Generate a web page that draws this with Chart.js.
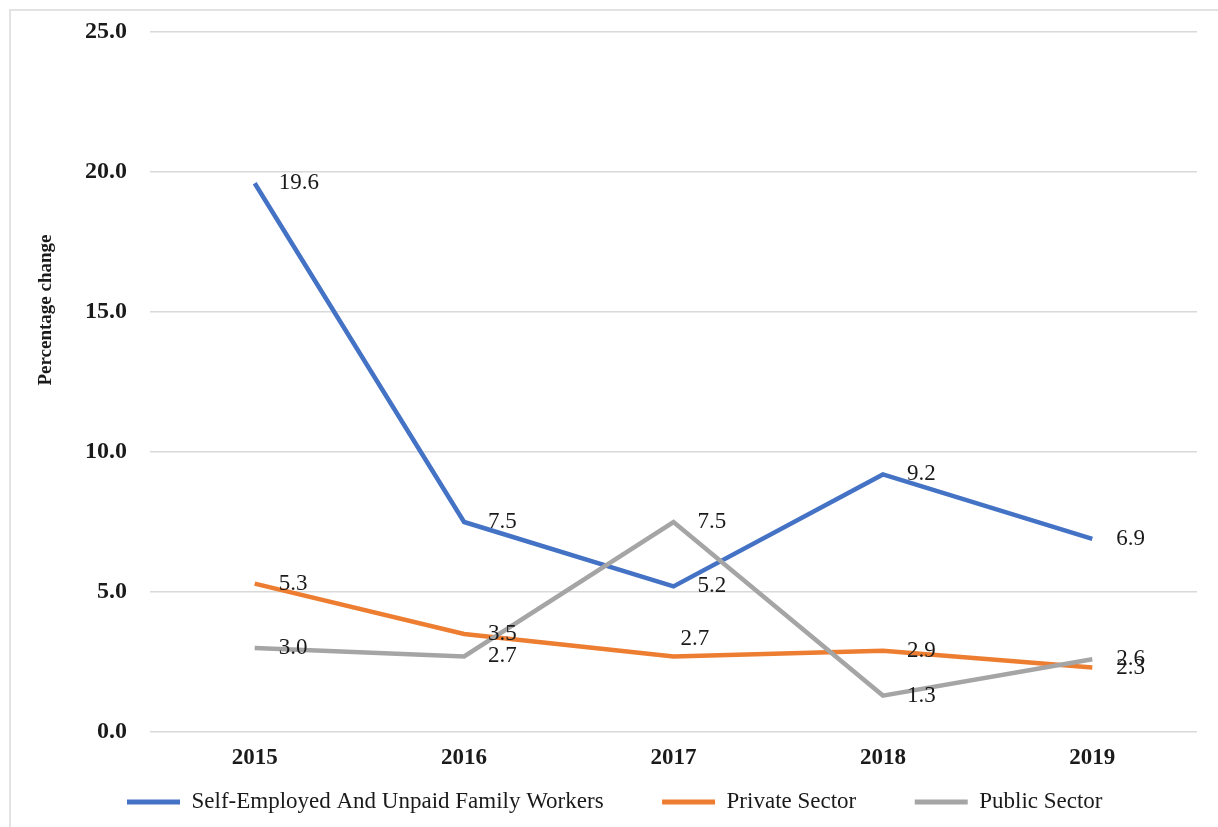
<!DOCTYPE html>
<html>
<head>
<meta charset="utf-8">
<script src="https://cdn.jsdelivr.net/npm/chart.js@4.4.0/dist/chart.umd.min.js"></script>
<style>
  html, body { margin: 0; padding: 0; background: #fff; overflow: hidden; }
  #wrap { position: relative; width: 1218px; height: 827px; overflow: hidden; }
  #frame { position: absolute; left: 9px; top: 9px; right: -20px; bottom: -20px; border: 2px solid #e2e2e2; }
  #c { position: absolute; left: 0; top: 0; }
</style>
</head>
<body>
<div id="wrap">
  <div id="frame"></div>
  <canvas id="c" width="1218" height="867"></canvas>
</div>
<script>
// ── Data ───────────────────────────────────────────────────────────────────
const YEARS = ['2015', '2016', '2017', '2018', '2019'];
const SELF_EMPLOYED = [19.6, 7.5, 5.2, 9.2, 6.9];
const PRIVATE_SECTOR = [5.3, 3.5, 2.7, 2.9, 2.3];
const PUBLIC_SECTOR = [3.0, 2.7, 7.5, 1.3, 2.6];
const Y_TICKS = [0, 5, 10, 15, 20, 25];

// where each value label goes: 'r' = right of the point, 'a' = above it
const LABEL_SPOTS = [
  ['r', 'r', 'r', 'r', 'r'],
  ['r', 'r', 'a', 'r', 'r'],
  ['r', 'r', 'r', 'r', 'r'],
];

// ── Styling ────────────────────────────────────────────────────────────────
const SERIF = "'Liberation Serif', 'Times New Roman', serif";
const TEXT_COLOR = '#1a1a1a';
const GRID_COLOR = '#d9d9d9';

// ── Plugins ────────────────────────────────────────────────────────────────
const valueLabels = {
  id: 'valueLabels',
  afterDatasetsDraw(chart) {
    const ctx = chart.ctx;
    ctx.save();
    ctx.font = `23px ${SERIF}`;
    ctx.fillStyle = TEXT_COLOR;
    ctx.textBaseline = 'middle';
    ctx.textAlign = 'left';
    chart.data.datasets.forEach((ds, di) => {
      chart.getDatasetMeta(di).data.forEach((pt, i) => {
        const txt = ds.data[i].toFixed(1);
        if (LABEL_SPOTS[di][i] === 'a') {
          ctx.fillText(txt, pt.x + 7, pt.y - 17);
        } else {
          ctx.fillText(txt, pt.x + 24, pt.y);
        }
      });
    });
    ctx.restore();
  }
};

const yTitle = {
  id: 'yTitle',
  afterDraw(chart) {
    const ctx = chart.ctx;
    ctx.save();
    ctx.translate(46, 310);
    ctx.rotate(-Math.PI / 2);
    ctx.font = `bold 19px ${SERIF}`;
    ctx.fillStyle = TEXT_COLOR;
    ctx.textAlign = 'center';
    ctx.textBaseline = 'middle';
    ctx.fillText('Percentage change', 0, 0);
    ctx.restore();
  }
};

// the legend padding is wide (item spacing), so pull the legend up over the x-axis band
const liftLegend = {
  id: 'liftLegend',
  afterLayout(chart) {
    const lg = chart.legend;
    if (!lg) return;
    const h = lg.bottom - lg.top;
    lg.top = chart.chartArea.bottom;
    lg.bottom = lg.top + h;
  }
};

// ── Chart ──────────────────────────────────────────────────────────────────
function series(label, data, color, order) {
  return {
    label, data, order,
    borderColor: color,
    backgroundColor: color,
    borderWidth: 4.5,
    pointRadius: 0,
    tension: 0,
  };
}

new Chart(document.getElementById('c'), {
  type: 'line',
  data: {
    labels: YEARS,
    datasets: [
      series('Self-Employed And Unpaid Family Workers', SELF_EMPLOYED, '#4472c4', 2),
      series('Private Sector', PRIVATE_SECTOR, '#ed7d31', 1),
      series('Public Sector', PUBLIC_SECTOR, '#a5a5a5', 0),
    ],
  },
  options: {
    responsive: false,
    animation: false,
    layout: { padding: { top: 32, right: 21, bottom: 3.5, left: 68.5 } },
    plugins: {
      tooltip: { enabled: false },
      legend: {
        position: 'bottom',
        align: 'start',
        labels: {
          color: TEXT_COLOR,
          font: { family: SERIF, size: 23 },
          boxWidth: 53,
          boxHeight: 5,
          padding: 58.5,
          sort: (a, b) => a.datasetIndex - b.datasetIndex,
          generateLabels: (chart) =>
            Chart.defaults.plugins.legend.labels.generateLabels(chart).map(it => ({ ...it, lineWidth: 0 })),
        },
      },
    },
    scales: {
      x: {
        offset: true,
        grid: { display: false, drawTicks: false },
        border: { display: false },
        ticks: { color: TEXT_COLOR, font: { family: SERIF, size: 23, weight: 'bold' }, padding: 12 },
        afterFit: (s) => { s.height = 40; },
      },
      y: {
        min: 0,
        max: 25,
        afterBuildTicks: (s) => { s.ticks = Y_TICKS.map(v => ({ value: v })); },
        grid: { color: GRID_COLOR, lineWidth: 1.5, drawTicks: false },
        border: { display: false },
        ticks: {
          color: TEXT_COLOR,
          font: { family: SERIF, size: 24, weight: 'bold' },
          padding: 23,
          callback: (v) => Number(v).toFixed(1),
        },
        afterFit: (s) => { s.width = 81.5; s.paddingTop = 0; s.paddingBottom = 0; },
      },
    },
  },
  plugins: [valueLabels, yTitle, liftLegend],
});
</script>
</body>
</html>
